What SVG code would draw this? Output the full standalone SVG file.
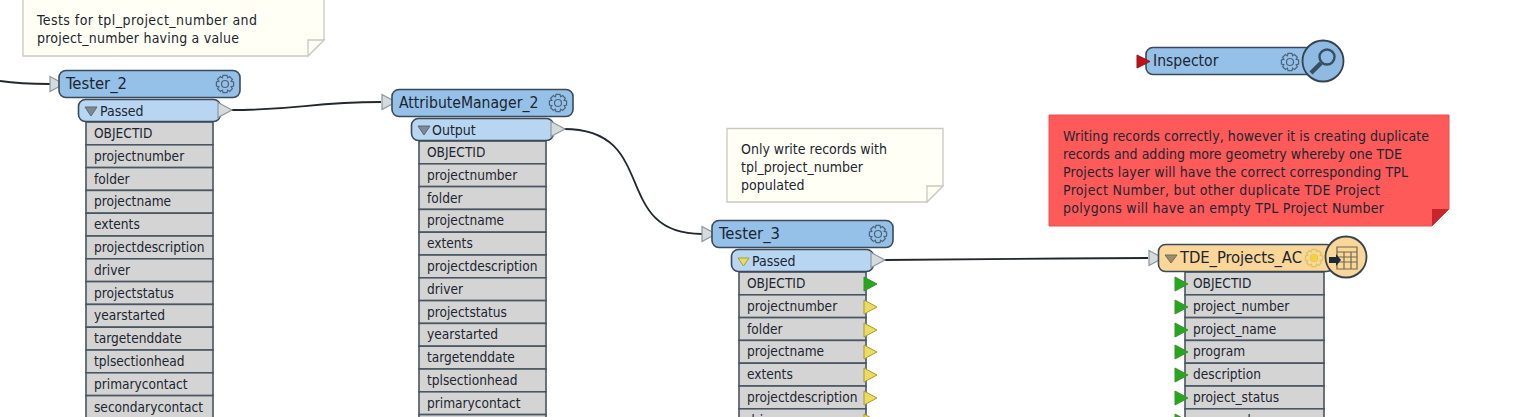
<svg xmlns="http://www.w3.org/2000/svg" width="1537" height="417" viewBox="0 0 1537 417">
<style>
text{font-family:"DejaVu Sans Condensed","DejaVu Sans","Liberation Sans",sans-serif;fill:#1c2530}
.h{font-size:15.600px}
.hl{font-size:16.500px}
.p{font-size:14px}
.r{font-size:13.600px}
.n{font-size:14px}
.hd{fill:#95c0e8;stroke:#3b4a58;stroke-width:1.6}
.pt{fill:#b8d6f2;stroke:#3b4a58;stroke-width:1.6}
.row{fill:#d4d4d4;stroke:#4a5661;stroke-width:1.6}
.note{fill:#fffff6;stroke:#c9c9c0;stroke-width:1.3}
.fold{fill:#fffff6;stroke:#c9c9c0;stroke-width:1.3}
.cn{fill:none;stroke:#22282e;stroke-width:1.8}
.pw{fill:#d5dadd;stroke:#8e979e;stroke-width:1.2}
</style>
<defs>
<path id="pw" class="pw" d="M0-7.5 14 0 0 7.5Z"/>
<path id="green" d="M0-7 13 0 0 7Z" fill="#25a81f" stroke="#3f8f2c" stroke-width="1"/>
<path id="yellow" d="M0-7 13 0 0 7Z" fill="#ecdc5c" stroke="#a69a3c" stroke-width="1"/>
<g id="gear" fill="none" stroke-width="1.2">
<circle r="3.5"/>
<path d="M-2-8.6H2L2.6-6.2 4.6-7.4 7.4-4.6 6.1-2.6 8.6-2V2L6.1 2.6 7.4 4.6 4.6 7.4 2.6 6.1 2 8.6H-2L-2.6 6.1-4.6 7.4-7.4 4.6-6.1 2.6-8.6 2V-2L-6.1-2.6-7.4-4.6-4.6-7.4-2.6-6.1Z"/>
</g>
</defs>

<g id="connectors">
<path class="cn" d="M0 81C20 84 35 84 50 84"/>
<path class="cn" d="M231 110C300 110 310 102 381 102"/>
<path class="cn" d="M564 129C660 129 610 234 702 234"/>
<path class="cn" d="M884 260C980 260 1060 258 1148 258"/>
</g>

<g id="note-1">
<path class="note" d="M23-2H324V40L308 56H23Z"/>
<path class="fold" d="M308 56V40H324Z"/>
<text class="n" x="37" y="25" textLength="220">Tests for tpl_project_number and</text>
<text class="n" x="37" y="43" textLength="202">project_number having a value</text>
</g>

<g id="tester-2">
<use href="#pw" x="50" y="84"/>
<rect class="hd" x="59" y="70.500" width="181" height="27" rx="7"/>
<text class="hl" x="66" y="89">Tester_2</text>
<use href="#gear" x="225" y="84" stroke="#4d6478"/>
<g class="rows">
<rect class="row" x="86" y="122" width="127" height="22.800"/>
<rect class="row" x="86" y="144.800" width="127" height="22.800"/>
<rect class="row" x="86" y="167.600" width="127" height="22.800"/>
<rect class="row" x="86" y="190.400" width="127" height="22.800"/>
<rect class="row" x="86" y="213.200" width="127" height="22.800"/>
<rect class="row" x="86" y="236" width="127" height="22.800"/>
<rect class="row" x="86" y="258.800" width="127" height="22.800"/>
<rect class="row" x="86" y="281.600" width="127" height="22.800"/>
<rect class="row" x="86" y="304.400" width="127" height="22.800"/>
<rect class="row" x="86" y="327.200" width="127" height="22.800"/>
<rect class="row" x="86" y="350" width="127" height="22.800"/>
<rect class="row" x="86" y="372.800" width="127" height="22.800"/>
<rect class="row" x="86" y="395.600" width="127" height="22.800"/>
</g>
<rect class="pt" x="78.500" y="99.500" width="142" height="22" rx="7"/>
<path d="M85 107H97L91 116Z" fill="#7d8a93" stroke="#5a666f"/>
<text class="p" x="100" y="116">Passed</text>
<use href="#pw" x="218" y="110"/>
<text class="r" x="94" y="138">OBJECTID</text>
<text class="r" x="94" y="161">projectnumber</text>
<text class="r" x="94" y="184">folder</text>
<text class="r" x="94" y="206">projectname</text>
<text class="r" x="94" y="229">extents</text>
<text class="r" x="94" y="252">projectdescription</text>
<text class="r" x="94" y="275">driver</text>
<text class="r" x="94" y="298">projectstatus</text>
<text class="r" x="94" y="320">yearstarted</text>
<text class="r" x="94" y="343">targetenddate</text>
<text class="r" x="94" y="366">tplsectionhead</text>
<text class="r" x="94" y="389">primarycontact</text>
<text class="r" x="94" y="412">secondarycontact</text>
</g>

<g id="attributemanager-2">
<use href="#pw" x="382" y="102"/>
<rect class="hd" x="392" y="89.500" width="181" height="27" rx="7"/>
<text class="h" x="399" y="108">AttributeManager_2</text>
<use href="#gear" x="558" y="103" stroke="#4d6478"/>
<g class="rows">
<rect class="row" x="419" y="141" width="127" height="22.800"/>
<rect class="row" x="419" y="163.800" width="127" height="22.800"/>
<rect class="row" x="419" y="186.600" width="127" height="22.800"/>
<rect class="row" x="419" y="209.400" width="127" height="22.800"/>
<rect class="row" x="419" y="232.200" width="127" height="22.800"/>
<rect class="row" x="419" y="255" width="127" height="22.800"/>
<rect class="row" x="419" y="277.800" width="127" height="22.800"/>
<rect class="row" x="419" y="300.600" width="127" height="22.800"/>
<rect class="row" x="419" y="323.400" width="127" height="22.800"/>
<rect class="row" x="419" y="346.200" width="127" height="22.800"/>
<rect class="row" x="419" y="369" width="127" height="22.800"/>
<rect class="row" x="419" y="391.800" width="127" height="22.800"/>
<rect class="row" x="419" y="414.600" width="127" height="22.800"/>
</g>
<rect class="pt" x="411.500" y="118.500" width="142" height="22" rx="7"/>
<path d="M418 126H430L424 135Z" fill="#7d8a93" stroke="#5a666f"/>
<text class="p" x="432" y="135">Output</text>
<use href="#pw" x="551" y="129"/>
<text class="r" x="427" y="157">OBJECTID</text>
<text class="r" x="427" y="180">projectnumber</text>
<text class="r" x="427" y="203">folder</text>
<text class="r" x="427" y="225">projectname</text>
<text class="r" x="427" y="248">extents</text>
<text class="r" x="427" y="271">projectdescription</text>
<text class="r" x="427" y="294">driver</text>
<text class="r" x="427" y="317">projectstatus</text>
<text class="r" x="427" y="339">yearstarted</text>
<text class="r" x="427" y="362">targetenddate</text>
<text class="r" x="427" y="385">tplsectionhead</text>
<text class="r" x="427" y="408">primarycontact</text>
</g>

<g id="note-2">
<path class="note" d="M727 128.500H943V186L927 202H727Z"/>
<path class="fold" d="M927 202V186H943Z"/>
<text class="n" x="741" y="154">Only write records with</text>
<text class="n" x="741" y="172">tpl_project_number</text>
<text class="n" x="741" y="190">populated</text>
</g>

<g id="tester-3">
<use href="#pw" x="702" y="234"/>
<rect class="hd" x="712" y="220.500" width="181" height="27" rx="7"/>
<text class="hl" x="719" y="239">Tester_3</text>
<use href="#gear" x="878" y="234" stroke="#4d6478"/>
<g class="rows">
<rect class="row" x="739" y="272" width="127" height="22.800"/>
<rect class="row" x="739" y="294.800" width="127" height="22.800"/>
<rect class="row" x="739" y="317.600" width="127" height="22.800"/>
<rect class="row" x="739" y="340.400" width="127" height="22.800"/>
<rect class="row" x="739" y="363.200" width="127" height="22.800"/>
<rect class="row" x="739" y="386" width="127" height="22.800"/>
<rect class="row" x="739" y="408.800" width="127" height="22.800"/>
</g>
<rect class="pt" x="731.500" y="249.500" width="142" height="22" rx="7"/>
<path d="M738 258H749L743.500 266Z" fill="#ecdc5c" stroke="#a69a3c"/>
<text class="p" x="752" y="266">Passed</text>
<use href="#pw" x="871" y="260"/>
<text class="r" x="747" y="288">OBJECTID</text>
<text class="r" x="747" y="311">projectnumber</text>
<text class="r" x="747" y="334">folder</text>
<text class="r" x="747" y="356">projectname</text>
<text class="r" x="747" y="379">extents</text>
<text class="r" x="747" y="402">projectdescription</text>
<text class="r" x="747" y="425">driver</text>
<use href="#green" x="864" y="284"/>
<use href="#yellow" x="864" y="307"/>
<use href="#yellow" x="864" y="330"/>
<use href="#yellow" x="864" y="352"/>
<use href="#yellow" x="864" y="375"/>
<use href="#yellow" x="864" y="398"/>
<use href="#yellow" x="864" y="421"/>
</g>

<g id="inspector">
<rect class="hd" x="1146" y="47.500" width="170" height="27" rx="7"/>
<path d="M1137 55 1150 61.500 1137 68Z" fill="#c1101a" stroke="#8a1a1a"/>
<text class="h" x="1153" y="66">Inspector</text>
<use href="#gear" x="1290" y="62" stroke="#4d6478"/>
<circle cx="1323" cy="61" r="20.500" fill="#8fbbe2" stroke="#35434f" stroke-width="1.8"/>
<circle cx="1327" cy="57" r="7.500" fill="none" stroke="#35505f" stroke-width="2.4"/>
<path d="M1321 63 1311 73" stroke="#35505f" stroke-width="4.500" fill="none"/>
</g>

<g id="note-red">
<path d="M1049 115H1449V209L1432 226H1049Z" fill="#fe5a5a" stroke="#e55050"/>
<path d="M1432 226V209H1449Z" fill="#c8252b"/>
<text class="n" x="1063" y="141" textLength="366">Writing records correctly, however it is creating duplicate</text>
<text class="n" x="1063" y="159" textLength="339">records and adding more geometry whereby one TDE</text>
<text class="n" x="1063" y="177" textLength="345">Projects layer will have the correct corresponding TPL</text>
<text class="n" x="1063" y="195" textLength="317">Project Number, but other duplicate TDE Project</text>
<text class="n" x="1063" y="213" textLength="321">polygons will have an empty TPL Project Number</text>
</g>

<g id="tde-projects-ac">
<use href="#pw" x="1149" y="258"/>
<g class="rows">
<rect class="row" x="1185" y="272" width="139" height="22.800"/>
<rect class="row" x="1185" y="294.800" width="139" height="22.800"/>
<rect class="row" x="1185" y="317.600" width="139" height="22.800"/>
<rect class="row" x="1185" y="340.400" width="139" height="22.800"/>
<rect class="row" x="1185" y="363.200" width="139" height="22.800"/>
<rect class="row" x="1185" y="386" width="139" height="22.800"/>
<rect class="row" x="1185" y="408.800" width="139" height="22.800"/>
</g>
<rect x="1158.500" y="244.500" width="175" height="27" rx="7" fill="#fbd699" stroke="#3b4a58" stroke-width="1.600"/>
<path d="M1165 255H1177L1171 263Z" fill="#9a8f6a" stroke="#6e6a55"/>
<text class="hl" x="1180" y="263" textLength="122">TDE_Projects_AC</text>
<use href="#gear" x="1314" y="258" stroke="#d9c55a"/>
<circle cx="1314" cy="258" r="3" fill="#f5d432"/>
<circle cx="1346" cy="257" r="20.500" fill="#fbd699" stroke="#35434f" stroke-width="1.800"/>
<path d="M1337 247H1357V269H1337ZM1337 252H1357M1337 257H1357M1337 262H1357M1344 252V269M1351 252V269" fill="none" stroke="#6d6a55" stroke-width="1.200"/>
<path d="M1329 257H1336V254L1341 260 1336 266V263H1329Z" fill="#1c2a38"/>
<text class="r" x="1193" y="288">OBJECTID</text>
<text class="r" x="1193" y="311">project_number</text>
<text class="r" x="1193" y="334">project_name</text>
<text class="r" x="1193" y="356">program</text>
<text class="r" x="1193" y="379">description</text>
<text class="r" x="1193" y="402">project_status</text>
<text class="r" x="1193" y="425">approved</text>
<use href="#green" x="1175" y="284"/>
<use href="#green" x="1175" y="307"/>
<use href="#green" x="1175" y="330"/>
<use href="#green" x="1175" y="352"/>
<use href="#green" x="1175" y="375"/>
<use href="#green" x="1175" y="398"/>
<use href="#green" x="1175" y="421"/>
</g>
</svg>
